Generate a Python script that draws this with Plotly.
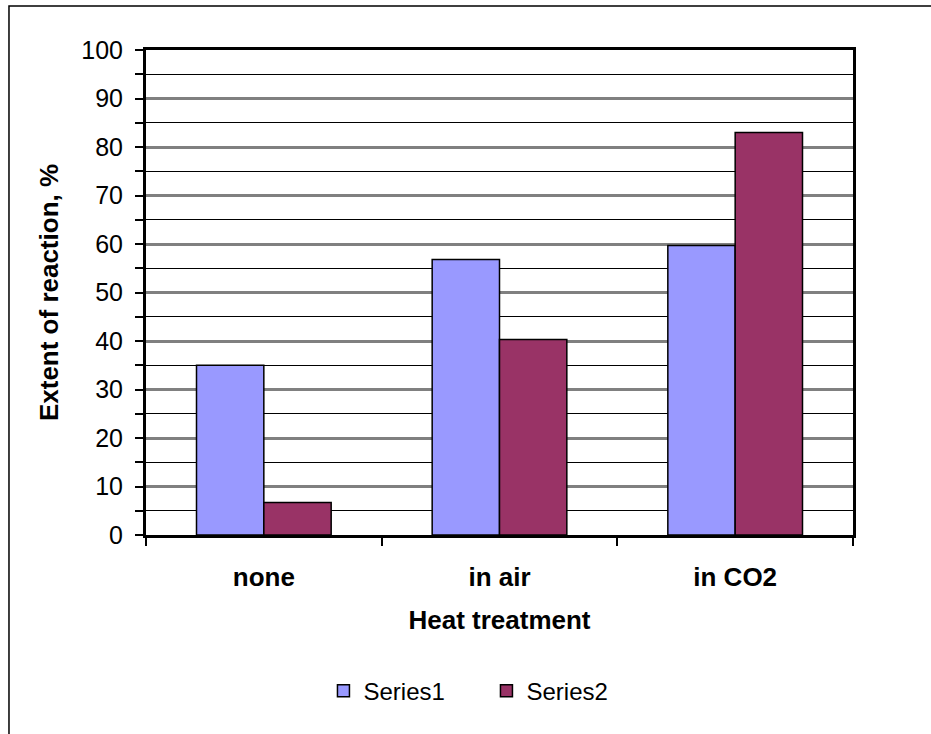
import plotly.graph_objects as go

# Extent of reaction for each heat-treatment condition
categories = ["none", "in air", "in CO2"]
series1 = [35.0, 56.8, 59.7]
series2 = [6.7, 40.3, 83.0]
series_names = ["Series1", "Series2"]

font_family = "Arial, Liberation Sans, sans-serif"

fig = go.Figure()
fig.add_trace(go.Bar(
    x=categories, y=series1, name=series_names[0],
    marker=dict(color="#9999FF", line=dict(color="black", width=1.5)),
))
fig.add_trace(go.Bar(
    x=categories, y=series2, name=series_names[1],
    marker=dict(color="#993366", line=dict(color="black", width=1.5)),
))

fig.update_layout(
    width=931, height=734,
    margin=dict(l=146, r=78, t=50, b=199),
    paper_bgcolor="white", plot_bgcolor="white",
    barmode="group", bargap=1.5 / 3.5, bargroupgap=0,
    font=dict(family=font_family, size=24, color="black"),
    showlegend=True,
    legend=dict(
        orientation="h", x=0.251, y=-0.322, xanchor="left", yanchor="middle",
        font=dict(family=font_family, size=24, color="black"),
        entrywidth=118, entrywidthmode="pixels",
        bgcolor="rgba(0,0,0,0)",
    ),
)

fig.update_xaxes(
    showline=True, linecolor="black", linewidth=3, mirror=True,
    ticks="outside", tickson="boundaries", ticklen=8, tickwidth=1.5, tickcolor="black",
    tickfont=dict(family=font_family, size=26, color="black", weight="bold"),
    ticklabelstandoff=17,
    showgrid=False,
    title=dict(text="<b>Heat treatment</b>", font=dict(size=26), standoff=20),
)

fig.update_yaxes(
    range=[0, 100], dtick=10, tick0=0,
    showline=True, linecolor="black", linewidth=3, mirror=True,
    ticks="outside", ticklen=8, tickwidth=1.5, tickcolor="black",
    tickfont=dict(family=font_family, size=25, color="black"),
    ticklabelstandoff=7,
    showgrid=True, gridcolor="#808080", gridwidth=3,
    minor=dict(dtick=5, showgrid=True, gridcolor="black", gridwidth=1,
               ticks="outside", ticklen=8, tickwidth=1.5, tickcolor="black"),
    zeroline=False,
    title=dict(text="<b>Extent of reaction, %</b>", font=dict(size=26), standoff=16),
)

# Outer chart-area frame
fig.add_shape(
    type="rect", xref="paper", yref="paper",
    x0=-0.1938, x1=1.25, y0=-0.5, y1=1.0907,
    line=dict(color="black", width=1.5), layer="below",
)

fig.write_html("out.html")
